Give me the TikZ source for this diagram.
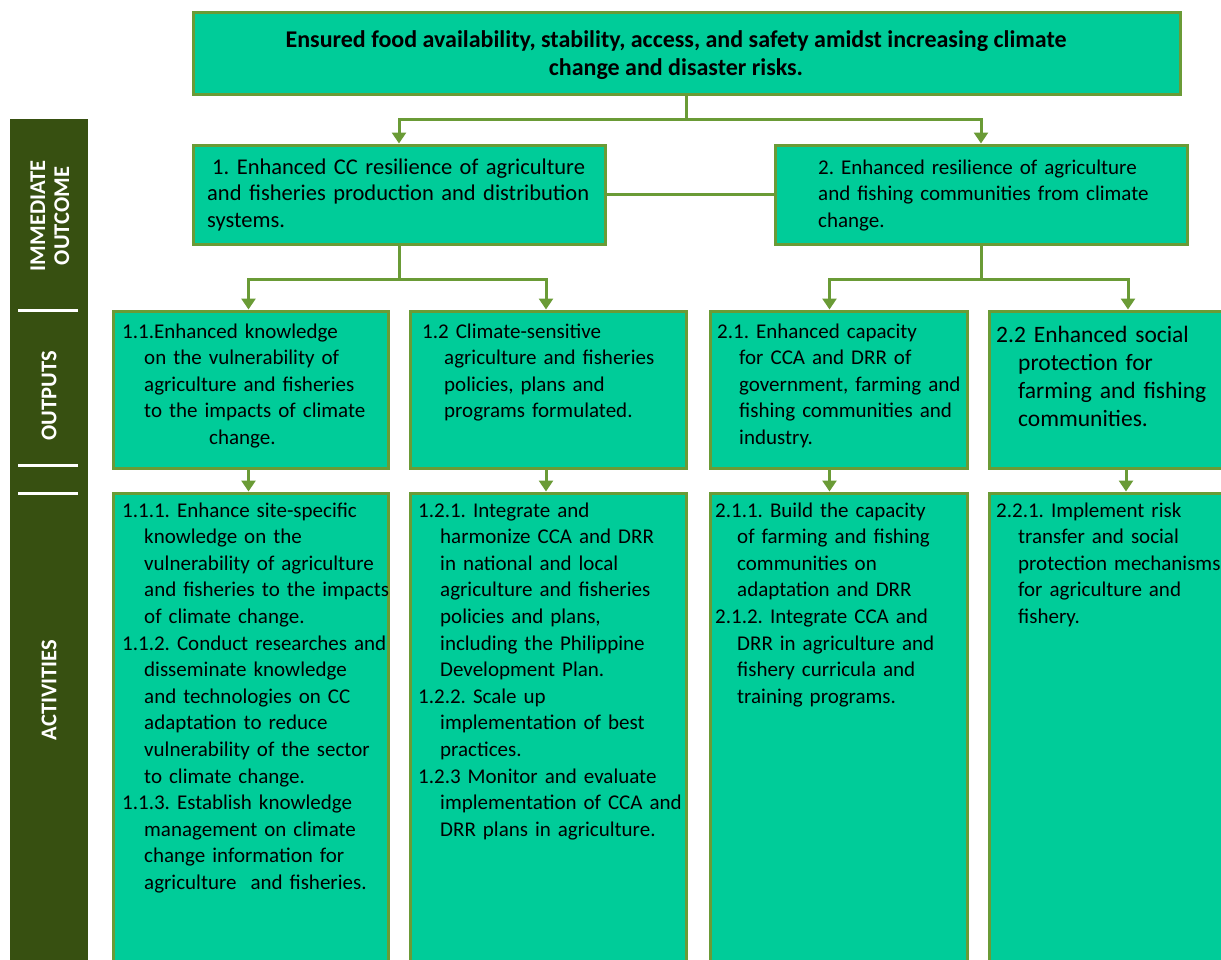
\documentclass[tikz,border=0pt]{standalone}
\usepackage{fontspec}
\setmainfont{Carlito}
\usetikzlibrary{arrows.meta}
\definecolor{boxfill}{HTML}{00CC99}
\definecolor{boxedge}{HTML}{6A9B36}
\definecolor{barfill}{HTML}{375011}
\newcommand{\hangitem}[1]{\hangindent=22pt\hangafter=1 #1\par}

\begin{document}
\begin{tikzpicture}[x=1pt,y=-1pt,
  box/.style={draw=boxedge,fill=boxfill,line width=3pt,inner sep=0pt},
  link/.style={draw=boxedge,line width=3pt},
  arrowlink/.style={link,-{Triangle[width=14pt,length=11pt]}},
  txt/.style={anchor=base west,inner sep=0pt,text width=500pt,
    font=\fontsize{21}{26.6}\selectfont\frenchspacing},
  side/.style={white,inner sep=0pt,rotate=90,align=center,
    font=\fontsize{22.5}{24}\selectfont\bfseries}]
		\useasboundingbox (0,0) rectangle (1221,959);
		\clip (0,0) rectangle (1221,959);
		
		%%%%% SIDE BAR %%%%%
		\fill[barfill] (10,119) rectangle (88,970);
		\draw[white,line width=3pt] (18,310) -- (78,310);
		\draw[white,line width=3pt] (18,465) -- (78,465);
		\draw[white,line width=3pt] (18,493) -- (78,493);
		\node[side] (lbloutcome) at (50,216) {IMMEDIATE\\OUTCOME};
		\node[side] (lbloutputs) at (49,396) {OUTPUTS};
		\node[side] (lblactivities) at (49,690) {ACTIVITIES};
		
		%%%%% BOXES %%%%%
		\node[box,minimum width=987pt,minimum height=82pt] (goal) at (686.5,53) {};
		\node[box,minimum width=412pt,minimum height=99pt] (cc1) at (399,194.5) {};
		\node[box,minimum width=412pt,minimum height=99pt] (cc2) at (981,194.5) {};
		
		\node[box,minimum width=275pt,minimum height=157pt] (out11) at (250.5,389.5) {};
		\node[box,minimum width=276pt,minimum height=157pt] (out12) at (548,389.5) {};
		\node[box,minimum width=257pt,minimum height=157pt] (out21) at (838.5,389.5) {};
		\node[box,minimum width=278pt,minimum height=157pt] (out22) at (1128,389.5) {};
		
		\node[box,minimum width=275pt,minimum height=490pt] (act11) at (250.5,738) {};
		\node[box,minimum width=276pt,minimum height=490pt] (act12) at (548,738) {};
		\node[box,minimum width=257pt,minimum height=490pt] (act21) at (838.5,738) {};
		\node[box,minimum width=278pt,minimum height=490pt] (act22) at (1128,738) {};
		
		%%%%% CONNECTORS %%%%%
		\draw[link] (goal.south) -- ++(0,24) coordinate (split0);
		\draw[arrowlink] (split0) -| (cc1.north);
		\draw[arrowlink] (split0) -| (cc2.north);
		\draw[link] (cc1.east) -- (cc2.west);
		
		\draw[link] (cc1.south) -- ++(0,34) coordinate (split1);
		\draw[arrowlink] (split1) -| ([xshift=-2pt]out11.north);
		\draw[arrowlink] (split1) -| ([xshift=-2pt]out12.north);
		\draw[link] (cc2.south) -- ++(0,34) coordinate (split2);
		\draw[arrowlink] (split2) -| ([xshift=-9pt]out21.north);
		\draw[arrowlink] (split2) -| (out22.north);
		
		\draw[arrowlink] ([xshift=-2pt]out11.south) -- ([xshift=-2pt]act11.north);
		\draw[arrowlink] ([xshift=-2pt]out12.south) -- ([xshift=-2pt]act12.north);
		\draw[arrowlink] ([xshift=-9pt]out21.south) -- ([xshift=-9pt]act21.north);
		\draw[arrowlink] ([xshift=-2pt]out22.south) -- ([xshift=-2pt]act22.north);
		
		%%%%% TEXTS %%%%%
		\node[anchor=base,inner sep=0pt,align=center,
		  font=\fontsize{24}{28}\selectfont\bfseries] (t0) at (676,75)
		  {Ensured food availability, stability, access, and safety amidst increasing climate\\
		   change and disaster risks.};
		
		\node[txt,font=\fontsize{22.5}{26.6}\selectfont\frenchspacing] (t1) at (207,174)
		  {\hspace*{5pt}1. Enhanced CC resilience of agriculture\newline
		  and fisheries production and distribution\newline systems.};
		\node[txt] (t2) at (818,174)
		  {2. Enhanced resilience of agriculture\newline
		  and fishing communities from climate\newline change.};
		
		\node[txt] (t11) at (122,338) {\hangitem{1.1.Enhanced knowledge\newline on the vulnerability of\newline
		  agriculture and fisheries\newline to the impacts of climate\newline\hspace*{65pt}change.}};
		\node[txt] (t12) at (422,338) {\hangitem{1.2 Climate-sensitive\newline agriculture and fisheries\newline
		  policies, plans and\newline programs formulated.}};
		\node[txt] (t21) at (717,338) {\hangitem{2.1. Enhanced capacity\newline for CCA and DRR of\newline
		  government, farming and\newline fishing communities and\newline industry.}};
		\node[txt,font=\fontsize{23.5}{28}\selectfont\frenchspacing] (t22) at (996,342) {\hangitem{2.2 Enhanced social\newline
		  protection for\newline farming and fishing\newline communities.}};
		
		\node[txt] (a11) at (122,517) {\hangitem{1.1.1. Enhance site-specific\newline knowledge on the\newline
		  vulnerability of agriculture\newline and fisheries to the impacts\newline of climate change.}
		  \hangitem{1.1.2. Conduct researches and\newline disseminate knowledge\newline and technologies on CC\newline
		  adaptation to reduce\newline vulnerability of the sector\newline to climate change.}
		  \hangitem{1.1.3. Establish knowledge\newline management on climate\newline change information for\newline
		  agriculture\ \ and fisheries.}};
		\node[txt] (a12) at (418,517) {\hangitem{1.2.1. Integrate and\newline harmonize CCA and DRR\newline
		  in national and local\newline agriculture and fisheries\newline policies and plans,\newline
		  including the Philippine\newline Development Plan.}
		  \hangitem{1.2.2. Scale up\newline implementation of best\newline practices.}
		  \hangitem{1.2.3 Monitor and evaluate\newline implementation of CCA and\newline DRR plans in agriculture.}};
		\node[txt] (a21) at (715,517) {\hangitem{2.1.1. Build the capacity\newline of farming and fishing\newline
		  communities on\newline adaptation and DRR}
		  \hangitem{2.1.2. Integrate CCA and\newline DRR in agriculture and\newline fishery curricula and\newline
		  training programs.}};
		\node[txt] (a22) at (996,517) {\hangitem{2.2.1. Implement risk\newline transfer and social\newline
		  protection mechanisms\newline for agriculture and\newline fishery.}};
		%%%%% END %%%%%
\end{tikzpicture}
\end{document}
